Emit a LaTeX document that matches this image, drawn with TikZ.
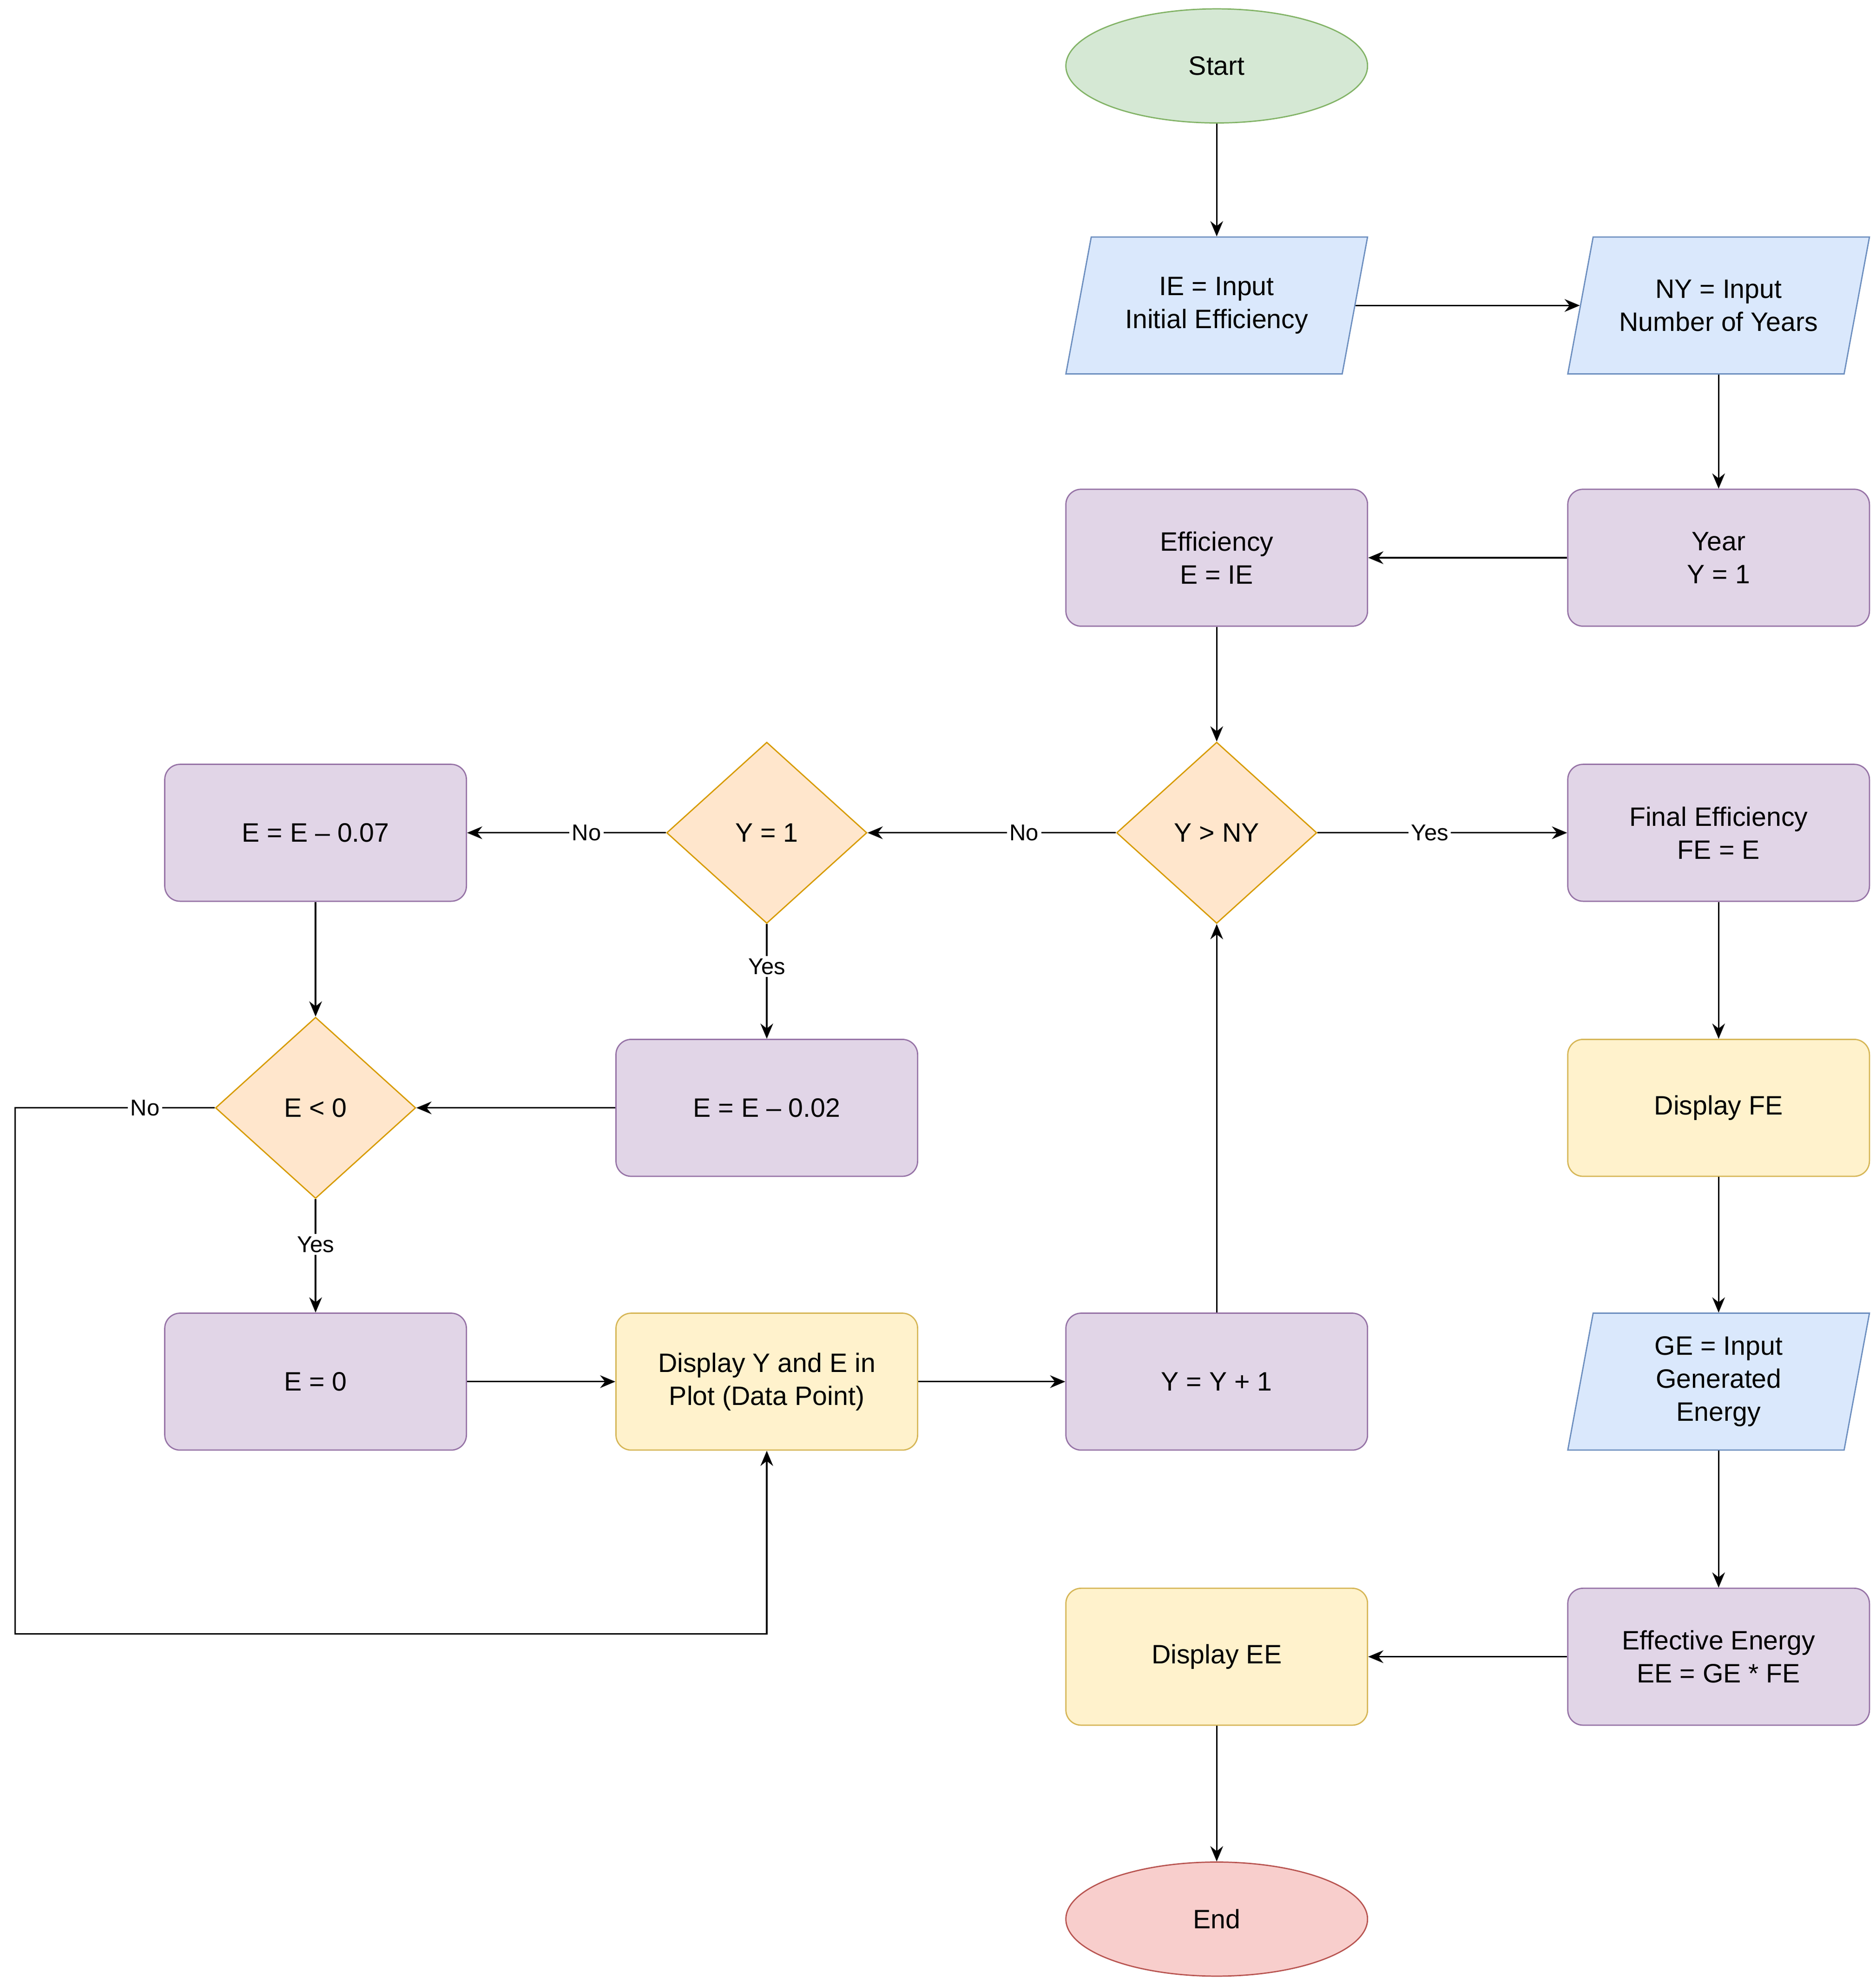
\documentclass[tikz,border=0pt]{standalone}
\usepackage{fontspec}
\setmainfont{Liberation Sans}
\usetikzlibrary{shapes.geometric,arrows.meta}
\definecolor{gF}{HTML}{D5E8D4}\definecolor{gS}{HTML}{82B366}
\definecolor{bF}{HTML}{DAE8FC}\definecolor{bS}{HTML}{6C8EBF}
\definecolor{pF}{HTML}{E1D5E7}\definecolor{pS}{HTML}{9673A6}
\definecolor{oF}{HTML}{FFE6CC}\definecolor{oS}{HTML}{D79B00}
\definecolor{yF}{HTML}{FFF2CC}\definecolor{yS}{HTML}{D6B656}
\definecolor{rF}{HTML}{F8CECC}\definecolor{rS}{HTML}{B85450}
\tikzset{
 base/.style={font=\fontsize{10.5}{13}\selectfont, align=center, inner sep=0pt, line width=0.5pt},
 proc/.style={base, rectangle, rounded corners=6pt, minimum width=119pt, minimum height=54pt, draw=pS, fill=pF},
 disp/.style={proc, draw=yS, fill=yF},
 term/.style={base, ellipse, minimum width=119pt, minimum height=45pt},
 dec/.style={base, diamond, minimum width=79pt, minimum height=71.5pt, draw=oS, fill=oF},
 io/.style={base, rectangle, minimum width=119pt, minimum height=54pt},
 arr/.style={-{Stealth[length=6pt,width=5pt]}, line width=0.6pt},
 lab/.style={fill=white, inner sep=1pt, font=\fontsize{9}{10}\selectfont}
}
\newcommand{\para}[4]{\draw[bS, fill=bF, line width=0.5pt] (#2-99,#3-54) -- (#2+119,#3-54) -- (#2+99,#3+54) -- (#2-119,#3+54) -- cycle; \node[io] (#1) at (#2,#3) {#4};}
\begin{document}
\begin{tikzpicture}[x=0.5pt,y=-0.5pt]
\useasboundingbox[fill=white] (0,0) rectangle (1480,1566);
\node[term, draw=gS, fill=gF] (start) at (960,52) {Start};
\para{ie}{960}{241}{IE = Input\\Initial Efficiency}
\para{ny}{1356}{241}{NY = Input\\Number of Years}
\node[proc] (year) at (1356,440) {Year\\Y = 1};
\node[proc] (eff) at (960,440) {Efficiency\\E = IE};
\node[dec] (ynY) at (960,657) {Y > NY};
\node[proc] (fe) at (1356,657) {Final Efficiency\\FE = E};
\node[dec] (y1) at (605,657) {Y = 1};
\node[proc] (e07) at (249,657) {E = E -- 0.07};
\node[dec] (e0) at (249,874) {E < 0};
\node[proc] (e02) at (605,874) {E = E -- 0.02};
\node[disp] (dfe) at (1356,874) {Display FE};
\node[proc] (ez) at (249,1090) {E = 0};
\node[disp] (dye) at (605,1090) {Display Y and E in\\Plot (Data Point)};
\node[proc] (yy) at (960,1090) {Y = Y + 1};
\para{ge}{1356}{1090}{GE = Input\\Generated\\Energy}
\node[proc] (ee) at (1356,1307) {Effective Energy\\EE = GE * FE};
\node[disp] (dee) at (960,1307) {Display EE};
\node[term, draw=rS, fill=rF] (end) at (960,1514) {End};
\coordinate (lc1) at (12,874);
\coordinate (lc2) at (12,1289);
\coordinate (lc3) at (605,1289);

\draw[arr] (start) -- (ie);
\draw[arr] ([xshift=-5pt]ie.east) -- ([xshift=5pt]ny.west);
\draw[arr] (ny) -- (year);
\draw[arr] (year) -- (eff);
\draw[arr] (eff) -- (ynY);
\draw[arr] (ynY) -- node[lab, pos=0.45] {Yes} (fe);
\draw[arr] (ynY) -- node[lab, pos=0.37] {No} (y1);
\draw[arr] (y1) -- node[lab, pos=0.4] {No} (e07);
\draw[arr] (y1) -- node[lab, pos=0.37] {Yes} (e02);
\draw[arr] (e07) -- (e0);
\draw[arr] (e02) -- (e0);
\draw[arr] (e0) -- node[lab, pos=0.4] {Yes} (ez);
\draw[arr] (e0.west) -- node[lab, pos=0.35] {No} (lc1) -- (lc2) -- (lc3) -- (dye.south);
\draw[arr] (ez) -- (dye);
\draw[arr] (dye) -- (yy);
\draw[arr] (yy) -- (ynY);
\draw[arr] (fe) -- (dfe);
\draw[arr] (dfe) -- (ge);
\draw[arr] (ge) -- (ee);
\draw[arr] (ee) -- (dee);
\draw[arr] (dee) -- (end);
\end{tikzpicture}
\end{document}
